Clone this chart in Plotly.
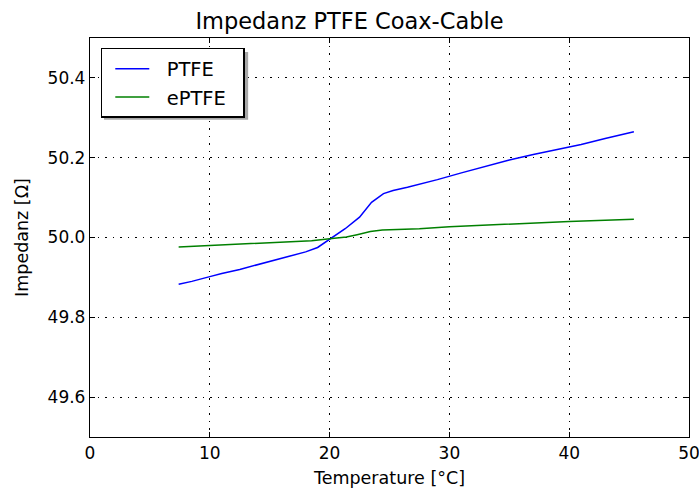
import plotly.graph_objects as go

ptfe_x = [7.4, 8.5, 10, 11, 12.5, 14.2, 16, 18, 19, 20, 21.3, 22.5, 23.5, 24.5, 25.3, 26.5,
          27.6, 29, 31, 33, 35, 37, 39, 41, 43, 45.4]
ptfe_y = [49.883, 49.890, 49.902, 49.910, 49.920, 49.933, 49.948, 49.964, 49.975, 49.995,
          50.022, 50.051, 50.088, 50.110, 50.118, 50.126, 50.134, 50.145, 50.162, 50.178,
          50.194, 50.208, 50.221, 50.233, 50.248, 50.265]

eptfe_x = [7.4, 10, 15, 18.5, 20, 21.4, 22.3, 23.4, 24.4, 27.5, 30, 35, 40, 45.4]
eptfe_y = [49.976, 49.980, 49.988, 49.992, 49.997, 50.001, 50.007, 50.015, 50.019,
           50.022, 50.027, 50.034, 50.040, 50.046]

series_names = ["PTFE", "ePTFE"]

font = "DejaVu Sans"
pad = "\u00a0\u00a0"
tail = "\u00a0\u00a0"
fig = go.Figure()
fig.add_trace(go.Scatter(x=ptfe_x, y=ptfe_y, mode="lines", name=pad + series_names[0] + tail,
                         legendgroup="a", line=dict(color="#0000ff", width=1.5)))
fig.add_trace(go.Scatter(x=eptfe_x, y=eptfe_y, mode="lines", name=pad + series_names[1] + tail,
                         legendgroup="b", line=dict(color="#008000", width=1.5)))

axis_common = dict(showline=True, linecolor="black", linewidth=1.3, mirror="allticks",
                   ticks="inside", ticklen=5, tickcolor="black", automargin=False,
                   showgrid=True, gridcolor="black", griddash="1.5px,6px", gridwidth=1,
                   zeroline=False, tickfont=dict(family=font, size=17, color="black"))

fig.update_xaxes(range=[0, 50], dtick=10, tick0=0, ticklabeloverflow="allow",
                 title=dict(text="Temperature [°C]", font=dict(family=font, size=17.5, color="black"), standoff=12),
                 **axis_common)
fig.update_yaxes(range=[49.5, 50.5], tickvals=[49.6, 49.8, 50.0, 50.2, 50.4], tickformat=".1f",
                 title=dict(text="Impedanz [Ω]", font=dict(family=font, size=17.5, color="black"), standoff=14),
                 **axis_common)

fig.add_shape(type="rect", xref="paper", yref="paper", x0=0.0234, x1=0.264, y0=0.795, y1=0.965,
              fillcolor="#a8a8a8", line=dict(width=0), layer="above")

fig.update_layout(
    width=699, height=488,
    margin=dict(l=90, r=10, t=38, b=51),
    paper_bgcolor="white", plot_bgcolor="white",
    title=dict(text="Impedanz PTFE Coax-Cable", x=0.5, xanchor="center", y=0.957, yanchor="middle",
               font=dict(family=font, size=22.5, color="black")),
    legend=dict(x=0.018, y=0.975, xanchor="left", yanchor="top",
                bgcolor="white", bordercolor="black", borderwidth=1.5,
                font=dict(family=font, size=19.5, color="black"),
                traceorder="grouped", tracegroupgap=0, itemwidth=34, indentation=8),
    showlegend=True,
)

fig.write_html("out.html")
